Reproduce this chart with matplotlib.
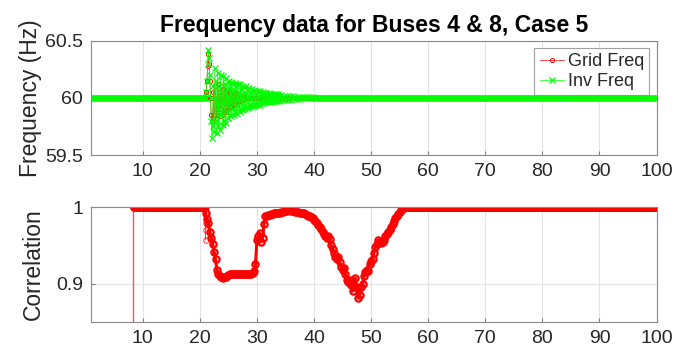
import numpy as np
import matplotlib
matplotlib.use("Agg")
import matplotlib.pyplot as plt

plt.rcParams['font.family'] = ['Liberation Sans', 'DejaVu Sans']

# ---------------- data ----------------
title = "Frequency data for Buses 4 & 8, Case 5"
x_ticks = [10, 20, 30, 40, 50, 60, 70, 80, 90, 100]
freq_yticks = [59.5, 60, 60.5]
corr_yticks = [0.9, 1]
steady_value = 60.0

# inverter frequency: flat before the event, transient, flat after
inv_pre_t = np.arange(1.0, 21.0, 0.2)
inv_tr_t = np.concatenate([np.arange(21.0, 34.0, 0.125), np.arange(34.0, 40.0, 0.25)])
inv_tr_f = [
    60.0, 60.05, 60.15, 60.3, 60.42, 60.35, 60.2, 60.0,
    59.8, 59.65, 59.75, 60.1, 59.7, 60.26, 59.8, 60.15,
    59.69, 60.22, 59.75, 60.1, 59.72, 60.2, 59.85, 60.05,
    59.76, 60.19, 59.8, 60.12, 59.78, 60.17, 59.88, 60.08,
    59.82, 60.15, 59.85, 60.1, 59.84, 60.14, 59.9, 60.06,
    59.85, 60.13, 59.88, 60.1, 59.86, 60.12, 59.92, 60.05,
    59.88, 60.12, 59.9, 60.08, 59.89, 60.1, 59.93, 60.04,
    59.9, 60.1, 59.92, 60.07, 59.91, 60.09, 59.94, 60.04,
    59.92, 60.08, 59.93, 60.06, 59.93, 60.07, 59.95, 60.03,
    59.94, 60.06, 59.95, 60.05, 59.94, 60.06, 59.96, 60.03,
    59.95, 60.05, 59.96, 60.04, 59.96, 60.045, 59.97, 60.02,
    59.96, 60.04, 59.965, 60.035, 59.965, 60.035, 59.975, 60.02,
    59.97, 60.03, 59.975, 60.03, 59.97, 60.03, 59.98, 60.015,
    59.975, 60.025, 59.98, 60.02, 59.98, 60.02, 59.985, 60.015,
    59.985, 60.015, 59.99, 60.01, 59.99, 60.01, 59.99, 60.01,
    59.995, 60.008, 59.995, 60.006, 59.996, 60.005, 59.997, 60.004]
inv_post_t = np.arange(40.0, 100.01, 0.2)

# grid frequency
grid_pre_t = np.arange(1.0, 21.0, 0.2)
grid_tr_t = np.arange(21.0, 28.0, 0.125)
grid_tr_f = [
    60.0, 60.05, 60.15, 60.28, 60.38, 60.3, 60.15, 60.0,
    59.85, 59.8, 59.82, 60.05, 59.85, 60.1, 59.9, 60.0,
    59.82, 60.12, 59.85, 60.05, 59.84, 60.1, 59.9, 60.02,
    59.86, 60.08, 59.88, 60.05, 59.88, 60.07, 59.92, 60.02,
    59.9, 60.06, 59.92, 60.04, 59.92, 60.05, 59.95, 60.02,
    59.94, 60.04, 59.95, 60.03, 59.95, 60.03, 59.97, 60.01,
    59.97, 60.025, 59.975, 60.02, 59.98, 60.015, 59.985, 60.01]
grid_post_t = np.arange(28.0, 100.01, 0.2)

# correlation
corr_start_t = [8.3, 8.3]
corr_start_v = [0.0, 1.0]
corr_pre_t = np.arange(8.4, 20.95, 0.1)
corr_steady = 1.0
corr_drop_t = [20.95, 21.0, 21.02, 21.05, 21.08]
corr_drop_v = [1.0, 0.98, 0.957, 0.97, 0.99]
corr_tr_t = np.arange(21.0, 56.01, 0.25)
corr_tr_v = [
    0.992, 0.985, 0.979, 0.968,
    0.960, 0.952, 0.942, 0.932,
    0.918, 0.912, 0.910, 0.909,
    0.907, 0.908, 0.909, 0.910,
    0.911, 0.912, 0.912, 0.913,
    0.913, 0.912, 0.913, 0.912,
    0.912, 0.913, 0.912, 0.912,
    0.913, 0.912, 0.913, 0.913,
    0.913, 0.914, 0.916, 0.925,
    0.957, 0.962, 0.966, 0.955,
    0.960, 0.978, 0.988, 0.989,
    0.990, 0.990, 0.991, 0.991,
    0.992, 0.992, 0.992, 0.993,
    0.993, 0.994, 0.994, 0.995,
    0.995, 0.995, 0.996, 0.996,
    0.995, 0.995, 0.995, 0.994,
    0.994, 0.994, 0.993, 0.993,
    0.992, 0.992, 0.991, 0.990,
    0.989, 0.988, 0.987, 0.986,
    0.984, 0.982, 0.980, 0.977,
    0.974, 0.971, 0.968, 0.965,
    0.962, 0.960, 0.962, 0.958,
    0.950, 0.945, 0.940, 0.935,
    0.932, 0.935, 0.928, 0.922,
    0.918, 0.920, 0.912, 0.905,
    0.902, 0.905, 0.898, 0.890,
    0.895, 0.907, 0.895, 0.881,
    0.885, 0.895, 0.900, 0.910,
    0.915, 0.918, 0.917, 0.925,
    0.930, 0.932, 0.940, 0.948,
    0.952, 0.957, 0.955, 0.953,
    0.955, 0.957, 0.962, 0.965,
    0.967, 0.970, 0.974, 0.978,
    0.982, 0.986, 0.988, 0.991,
    0.994, 0.996, 0.998, 0.999,
    1.000]
corr_post_t = np.arange(56.1, 100.01, 0.1)

# ---------------- figure ----------------
fig = plt.figure(figsize=(6.75, 3.5), dpi=100)
ax1 = fig.add_axes([0.1353, 0.5571, 0.8374, 0.3266])
ax2 = fig.add_axes([0.1353, 0.0809, 0.8374, 0.3268])

red = (1, 0, 0)
green = (0, 1, 0)
tick_color = '#262626'

g_t = np.concatenate([grid_pre_t, grid_tr_t, grid_post_t])
g_f = np.concatenate([np.full(len(grid_pre_t), steady_value), grid_tr_f,
                      np.full(len(grid_post_t), steady_value)])
i_t = np.concatenate([inv_pre_t, inv_tr_t, inv_post_t])
i_f = np.concatenate([np.full(len(inv_pre_t), steady_value), inv_tr_f,
                      np.full(len(inv_post_t), steady_value)])

ax1.plot(g_t, g_f, color=red, marker='o', markersize=3, mfc='none',
         mew=0.7, lw=0.5, label='Grid Freq')
ax1.plot(i_t, i_f, color=green, marker='x', markersize=4,
         mew=0.9, lw=0.5, label='Inv Freq')

# thin vertical start line, then the thick correlation trace
ax2.plot(corr_start_t, corr_start_v, color='#ff5050', lw=1.0)
ax2.plot(corr_drop_t, corr_drop_v, color=red, marker='o', markersize=4,
         mfc='none', mew=0.8, lw=0.6, alpha=0.7)
c_t = np.concatenate([corr_pre_t, corr_tr_t, corr_post_t])
c_v = np.concatenate([np.full(len(corr_pre_t), corr_steady), corr_tr_v,
                      np.full(len(corr_post_t), corr_steady)])
ax2.plot(c_t, c_v, color=red, marker='o', markersize=4.5, mfc='none',
         mew=1.6, lw=2.2)

for ax in (ax1, ax2):
    ax.set_xlim(1, 100)
    ax.set_xticks(x_ticks)
    ax.grid(True, color='#e3e3e3', lw=0.8)
    ax.set_axisbelow(True)
    ax.tick_params(direction='in', length=3, colors='#808080',
                   labelcolor=tick_color, labelsize=14, pad=6)
    for s in ax.spines.values():
        s.set_color('#8a8a8a')
        s.set_linewidth(0.8)

ax1.set_ylim(59.5, 60.5)
ax1.set_yticks(freq_yticks)
ax1.set_yticklabels(['59.5', '60', '60.5'])
ax1.set_ylabel('Frequency (Hz)', fontsize=16.5, color=tick_color, labelpad=2)
ax1.set_title(title, fontsize=16.5, fontweight='bold', color='black', pad=6)

ax2.set_ylim(0.85, 1.0)
ax2.set_yticks(corr_yticks)
ax2.set_yticklabels(['0.9', '1'])
ax2.set_ylabel('Correlation', fontsize=16.5, color=tick_color, labelpad=8)

leg = ax1.legend(loc='upper right', fontsize=13, frameon=True, fancybox=False,
                 handlelength=1.35, handletextpad=0.2, borderpad=0.3,
                 labelspacing=0.15, borderaxespad=0.4)
leg.get_frame().set_edgecolor('#8a8a8a')
leg.get_frame().set_linewidth(0.8)
for t in leg.get_texts():
    t.set_color(tick_color)

fig.savefig('out.png', dpi=100)
